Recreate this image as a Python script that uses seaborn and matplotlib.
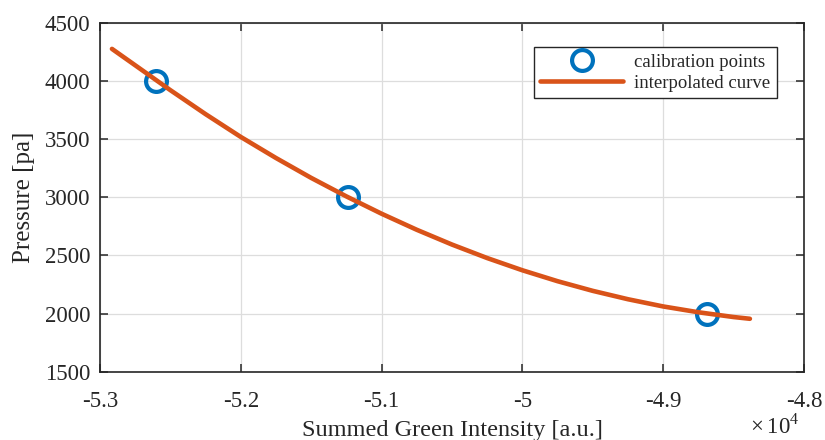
import numpy as np
import pandas as pd
import matplotlib
matplotlib.use("Agg")
import matplotlib.pyplot as plt
from matplotlib.ticker import FuncFormatter
import seaborn as sns

# calibration measurements
calib_intensity = [-52602, -51239, -48691]
calib_pressure = [4000, 3000, 2000]

# curve
curve_intensity = [-52915, -52750, -52500, -52250, -52000, -51750, -51500,
                   -51250, -51000, -50750, -50500, -50250, -50000, -49750,
                   -49500, -49250, -49000, -48750, -48500, -48384]
curve_pressure = [4275, 4134, 3920, 3714, 3518, 3337, 3166,
                  3007, 2858, 2720, 2593, 2477, 2372, 2278,
                  2195, 2123, 2061, 2011, 1970, 1955]

blue = "#0072BD"
orange = "#D95319"
text_color = "#262626"

sns.set_theme(style="ticks")
plt.rcParams["font.family"] = ["Liberation Serif", "DejaVu Serif"]
plt.rcParams["mathtext.fontset"] = "custom"
plt.rcParams["mathtext.rm"] = "Liberation Serif"
plt.rcParams["axes.unicode_minus"] = False

fig = plt.figure(figsize=(8.25, 4.4), dpi=100)
ax = fig.add_axes([0.1212, 0.1552, 0.8533, 0.7932])

calib = pd.DataFrame({"x": calib_intensity, "y": calib_pressure})
curve = pd.DataFrame({"x": curve_intensity, "y": curve_pressure})

ax.plot(calib["x"], calib["y"], linestyle="none", marker="o", markersize=15,
        markerfacecolor="none", markeredgecolor=blue, markeredgewidth=3,
        label="calibration points", zorder=3)
sns.lineplot(data=curve, x="x", y="y", ax=ax, color=orange, linewidth=3.3,
             label="interpolated curve", zorder=4, sort=False)

ax.set_xlim(-53000, -48000)
ax.set_ylim(1500, 4500)
ax.set_xticks(np.arange(-53000, -47999, 1000))
ax.set_yticks(np.arange(1500, 4501, 500))
ax.xaxis.set_major_formatter(FuncFormatter(lambda v, p: f"{v / 1e4:g}"))

ax.grid(True, color="#dddddd", linewidth=0.9)
ax.set_axisbelow(True)
ax.tick_params(direction="in", length=6, width=1.1, top=True, right=True,
               labelsize=16.5, colors=text_color)
ax.tick_params(axis="x", pad=14)
ax.tick_params(axis="y", pad=7)
for s in ax.spines.values():
    s.set_visible(True)
    s.set_linewidth(1.2)
    s.set_color(text_color)

ax.set_xlabel("Summed Green Intensity [a.u.]", fontsize=17.5, color=text_color, labelpad=6)
ax.set_ylabel("Pressure [pa]", fontsize=18, color=text_color, labelpad=7)
ax.text(0.994, -0.178, r"$\times\,10^{4}$", transform=ax.transAxes, ha="right",
        va="baseline", fontsize=16.5, color=text_color)

leg = ax.legend(loc="upper right", bbox_to_anchor=(0.9616, 0.930), fontsize=13.5,
                frameon=True, fancybox=False, framealpha=1, edgecolor=text_color,
                handlelength=4.4, borderpad=0.35, labelspacing=0.2,
                handletextpad=0.6, borderaxespad=0)
leg.get_frame().set_linewidth(1.0)

fig.savefig("out.png", dpi=100)
